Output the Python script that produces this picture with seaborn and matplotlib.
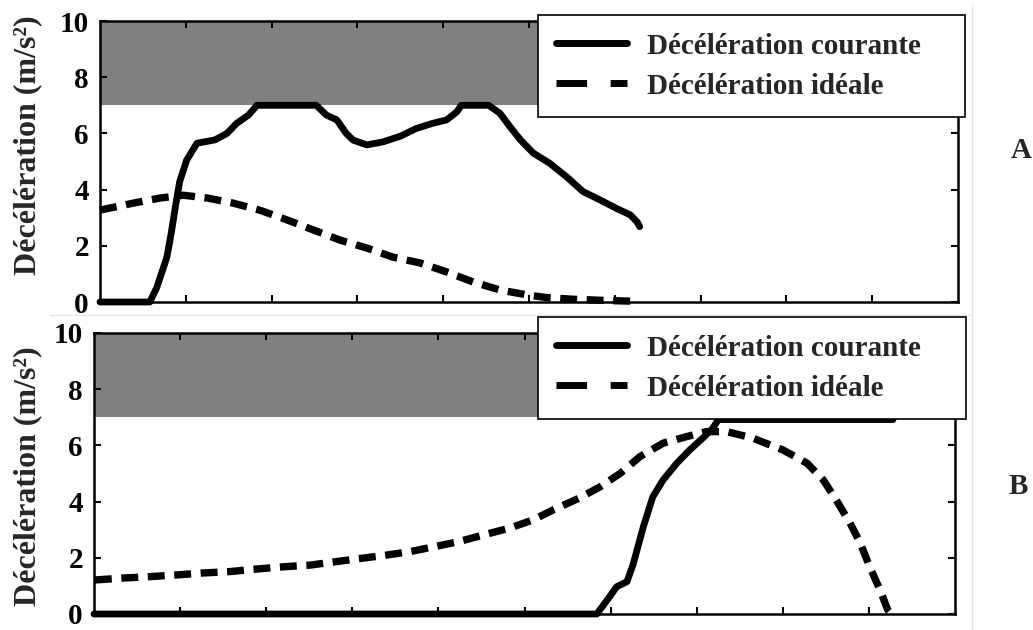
import numpy as np
import matplotlib
matplotlib.use("Agg")
import matplotlib.pyplot as plt
from matplotlib.lines import Line2D
import seaborn as sns

# --- data (x in arbitrary time units 0..10) ---
# panel A
a_cur_x = [0.0, 0.58, 0.66, 0.78, 0.83, 0.89, 0.93, 1.01, 1.13, 1.34, 1.48, 1.59, 1.73, 1.83,
           2.52, 2.64, 2.76, 2.87, 2.95, 3.11, 3.30, 3.50, 3.69, 3.88, 4.04, 4.16, 4.21,
           4.53, 4.66, 4.78, 4.90, 5.05, 5.24, 5.44, 5.63, 5.83, 6.02, 6.18, 6.26, 6.29]
a_cur_y = [0.0, 0.0, 0.5, 1.6, 2.45, 3.6, 4.3, 5.05, 5.65, 5.77, 6.0, 6.35, 6.65, 7.0,
           7.0, 6.65, 6.48, 6.0, 5.76, 5.59, 5.7, 5.9, 6.18, 6.36, 6.48, 6.77, 7.0,
           7.0, 6.72, 6.23, 5.77, 5.3, 4.94, 4.45, 3.93, 3.63, 3.33, 3.1, 2.85, 2.68]
a_ideal_x = [0.0, 0.39, 0.70, 0.97, 1.25, 1.55, 1.86, 2.18, 2.49, 2.80, 3.11, 3.41, 3.73,
             4.04, 4.35, 4.66, 4.98, 5.20, 5.50, 5.85, 6.18]
a_ideal_y = [3.27, 3.52, 3.7, 3.8, 3.7, 3.52, 3.27, 2.92, 2.56, 2.2, 1.92, 1.6, 1.39,
             1.07, 0.71, 0.43, 0.25, 0.16, 0.1, 0.06, 0.03]

# panel B
b_cur_x = [0.0, 5.84, 5.99, 6.07, 6.19, 6.26, 6.38, 6.49, 6.61, 6.77, 6.92, 7.07, 7.19,
           7.25, 9.28]
b_cur_y = [0.0, 0.0, 0.62, 0.97, 1.15, 1.75, 3.1, 4.17, 4.77, 5.37, 5.84, 6.26, 6.62,
           6.92, 6.92]
b_ideal_x = [0.01, 0.34, 0.65, 0.96, 1.27, 1.58, 1.89, 2.2, 2.51, 2.78, 3.05, 3.36, 3.67,
             3.96, 4.23, 4.52, 4.83, 5.10, 5.33, 5.64, 5.88, 6.11, 6.34, 6.61, 6.88, 7.11,
             7.35, 7.65, 8.0, 8.28, 8.47, 8.62, 8.78, 8.9, 9.01, 9.13, 9.22, 9.26]
b_ideal_y = [1.21, 1.28, 1.33, 1.39, 1.46, 1.51, 1.6, 1.68, 1.74, 1.85, 1.96, 2.08, 2.22,
             2.4, 2.57, 2.81, 3.06, 3.35, 3.7, 4.13, 4.53, 5.0, 5.6, 6.08, 6.31, 6.49,
             6.49, 6.26, 5.84, 5.37, 4.77, 4.06, 3.24, 2.52, 1.68, 0.85, 0.14, 0.0]

band_low, band_high = 7, 10
y_ticks = [0, 2, 4, 6, 8, 10]
x_ticks = [1, 2, 3, 4, 5, 6, 7, 8, 9]
label_cur = "Décélération courante"
label_ideal = "Décélération idéale"
ylabel = "Décélération (m/s²)"
panel_tags = ["A", "B"]

sns.set_style("ticks")
plt.rcParams['font.family'] = ['Liberation Serif', 'DejaVu Serif']
plt.rcParams['font.weight'] = 'bold'

W, H = 1033, 630
fig = plt.figure(figsize=(W / 100, H / 100), dpi=100)

# axes boxes in pixels: left, top, right, bottom
boxes = [(100, 21, 958, 302), (94, 333, 955, 614)]
legend_boxes = [(538, 15, 965, 118), (538, 317, 966, 420)]
tag_pos = [(1021, 150), (1018, 487)]
ylabel_pos = [(28, 145), (28, 476)]
panels = [(a_cur_x, a_cur_y, a_ideal_x, a_ideal_y), (b_cur_x, b_cur_y, b_ideal_x, b_ideal_y)]

for i, (l, t, r, b) in enumerate(boxes):
    ax = fig.add_axes([l / W, 1 - b / H, (r - l) / W, (b - t) / H])
    cx, cy, ix, iy = panels[i]
    ax.axhspan(band_low, band_high, color='#808080', lw=0, zorder=0)
    sns.lineplot(x=ix, y=iy, ax=ax, color='black', lw=5.3, estimator=None, sort=False,
                 linestyle=(0, (2.3, 1.3)), clip_on=False, zorder=3)
    sns.lineplot(x=cx, y=cy, ax=ax, color='black', lw=4.9, estimator=None, sort=False,
                 clip_on=False, zorder=4, solid_capstyle='round', solid_joinstyle='round')
    ax.set_xlim(0, 10)
    ax.set_ylim(0, 10)
    ax.set_xticks(x_ticks)
    ax.set_xticklabels([])
    ax.set_yticks(y_ticks)
    ax.set_yticklabels([str(v) for v in y_ticks], fontsize=21, fontweight='bold')
    ax.tick_params(direction='in', length=5, width=1.5, top=True, right=True,
                   pad=8, colors='black')
    for s in ax.spines.values():
        s.set_linewidth(1.8)
        s.set_color('black')
        s.set_visible(True)

    handles = [Line2D([], [], color='black', lw=5),
               Line2D([], [], color='black', lw=5, linestyle=(0, (4.4, 3.4)))]
    ll, lt, lr, lb = legend_boxes[i]
    fig.legend(handles, [label_cur, label_ideal], loc='upper left',
               bbox_to_anchor=(ll / W, 1 - lb / H, (lr - ll) / W, (lb - lt) / H),
               mode='expand', borderaxespad=0, fancybox=False, framealpha=1,
               edgecolor='black', prop={'size': 21, 'weight': 'bold'},
               handlelength=2.45, handletextpad=0.69, borderpad=0.6, labelspacing=0.45)
    fig.legends[-1].get_frame().set_linewidth(1.2)

    fig.text(tag_pos[i][0] / W, 1 - tag_pos[i][1] / H, panel_tags[i], fontsize=21,
             fontweight='bold', ha='center', va='center')
    fig.text(ylabel_pos[i][0] / W, 1 - ylabel_pos[i][1] / H, ylabel, fontsize=23,
             fontweight='bold', rotation=90, ha='center', va='center')

# faint frame lines of the original picture
fig.add_artist(Line2D([50 / W, 972 / W], [1 - 315 / H, 1 - 315 / H], color='#e4e4e4', lw=1))
fig.add_artist(Line2D([972 / W, 972 / W], [0, 1 - 5 / H], color='#e4e4e4', lw=1))

fig.savefig("out.png", dpi=100)
